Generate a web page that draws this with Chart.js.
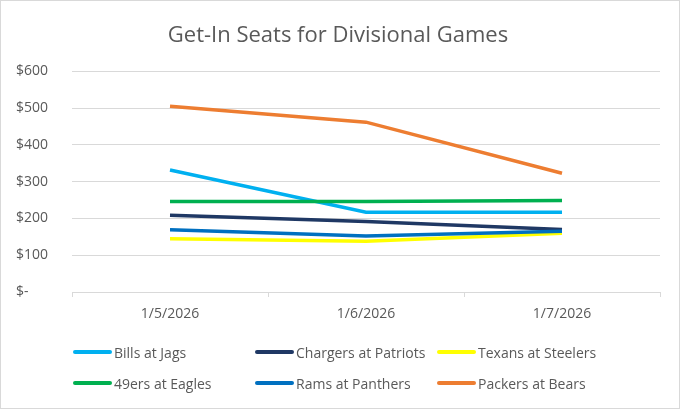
<!DOCTYPE html>
<html lang="en">
<head>
  <meta charset="UTF-8">
  <title>Get-In Seats for Divisional Games</title>
  <script src="https://cdn.jsdelivr.net/npm/chart.js"></script>
  <style>
    html, body { margin: 0; padding: 0; background: #fff; }
    #wrap { position: relative; width: 680px; height: 409px; box-sizing: border-box; border: 1px solid #d9d9d9; }
    #chart { position: absolute; left: 0; top: 0; }
    #legend { position: absolute; left: 72px; top: 340px; width: 560px; display: grid; grid-template-columns: 182px 182px 182px; row-gap: 9px; }
    .item { display: flex; align-items: center; height: 22px; font-family: "Open Sans", sans-serif; font-size: 14px; color: #595959; white-space: nowrap; }
    .swatch { width: 39px; height: 4px; border-radius: 2px; margin-right: 2px; }
  </style>
</head>
<body>
<div id="wrap">
  <canvas id="chart" width="678" height="407"></canvas>
  <div id="legend"></div>
</div>
<script>
const dates = ['1/5/2026', '1/6/2026', '1/7/2026'];
const games = ['Bills at Jags', 'Chargers at Patriots', 'Texans at Steelers', '49ers at Eagles', 'Rams at Panthers', 'Packers at Bears'];
const billsJags = [332, 217, 217];
const chargersPatriots = [209, 192, 170];
const texansSteelers = [145, 138, 160];
const ninersEagles = [246, 246, 249];
const ramsPanthers = [169, 152, 165];
const packersBears = [505, 462, 323];
const yTicks = [0, 100, 200, 300, 400, 500, 600];

const seriesValues = [billsJags, chargersPatriots, texansSteelers, ninersEagles, ramsPanthers, packersBears];
const colors = ['#00b0f0', '#1f3864', '#ffff00', '#00b050', '#0070c0', '#ed7d31'];

const datasets = games.map((name, i) => ({
  label: name,
  data: seriesValues[i],
  borderColor: colors[i],
  backgroundColor: colors[i],
  borderWidth: 3.5,
  pointRadius: 0,
  tension: 0,
  order: games.length - i   // later series on top, like Excel
}));

new Chart(document.getElementById('chart'), {
  type: 'line',
  data: { labels: dates, datasets: datasets },
  options: {
    responsive: false,
    animation: false,
    layout: { padding: { left: 15, right: 19, top: 0, bottom: 0 } },
    plugins: {
      legend: { display: false },
      tooltip: { enabled: false },
      title: {
        display: true,
        text: 'Get-In Seats for Divisional Games',
        color: '#595959',
        font: { family: 'Open Sans', size: 22, weight: 'normal' },
        padding: { top: 22, bottom: 22 }
      }
    },
    scales: {
      x: {
        offset: true,
        grid: { offset: true, drawOnChartArea: false, drawTicks: true, tickLength: 5, color: '#d9d9d9' },
        border: { color: '#d9d9d9' },
        ticks: { color: '#595959', font: { family: 'Open Sans', size: 14 }, padding: 9 },
        afterFit: s => { s.height = 116; }
      },
      y: {
        min: 0,
        max: 600,
        afterBuildTicks: s => { s.ticks = yTicks.map(v => ({ value: v })); },
        grid: { color: '#d9d9d9', drawTicks: false },
        border: { display: false },
        ticks: {
          color: '#595959',
          font: { family: 'Open Sans', size: 14 },
          crossAlign: 'far',
          callback: v => v === 0 ? '$-' : '$' + v
        },
        afterFit: s => { s.width = 56; }
      }
    }
  }
});

const legend = document.getElementById('legend');
games.forEach((name, i) => {
  const item = document.createElement('div');
  item.className = 'item';
  const sw = document.createElement('span');
  sw.className = 'swatch';
  sw.style.background = colors[i];
  item.appendChild(sw);
  item.appendChild(document.createTextNode(name));
  legend.appendChild(item);
});
</script>
</body>
</html>
